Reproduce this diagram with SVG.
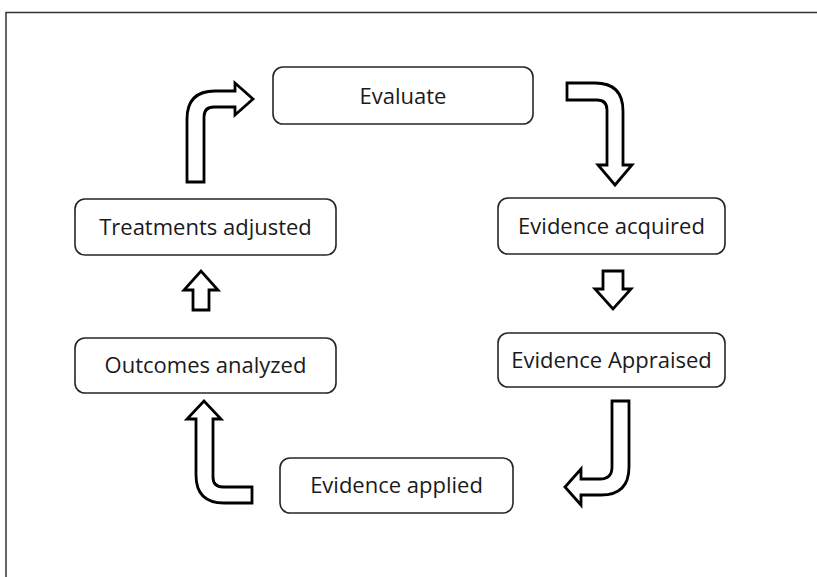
<svg xmlns="http://www.w3.org/2000/svg" width="817" height="577" viewBox="0 0 817 577">
<style>
.box{fill:#fff;stroke:#262626;stroke-width:1.6}
.lbl{font-family:"Open Sans","Noto Sans",sans-serif;font-size:22px;fill:#1a1a1a;text-anchor:middle}
.arr{fill:#fff;stroke:#000;stroke-width:2.8;stroke-linejoin:miter}
.frame{fill:none;stroke:#333;stroke-width:1.5}
</style>
<rect width="817" height="577" fill="#fff"/>
<path class="frame" d="M6,577 L6,12.5 L817,12.5"/>
<g id="node-evaluate"><rect class="box" x="273" y="67" width="260" height="57" rx="10"/><text class="lbl" x="403" y="103.5">Evaluate</text></g>
<g id="node-evidence-acquired"><rect class="box" x="498" y="198" width="227" height="56" rx="10"/><text class="lbl" x="611.5" y="234">Evidence acquired</text></g>
<g id="node-evidence-appraised"><rect class="box" x="498" y="333" width="227" height="54" rx="10"/><text class="lbl" x="611.5" y="368">Evidence Appraised</text></g>
<g id="node-evidence-applied"><rect class="box" x="280" y="458" width="233" height="55" rx="10"/><text class="lbl" x="396.5" y="493">Evidence applied</text></g>
<g id="node-outcomes-analyzed"><rect class="box" x="75" y="338" width="261" height="55" rx="10"/><text class="lbl" x="205.5" y="373">Outcomes analyzed</text></g>
<g id="node-treatments-adjusted"><rect class="box" x="75" y="199" width="261" height="56" rx="10"/><text class="lbl" x="205.5" y="235">Treatments adjusted</text></g>
<g id="connectors">
<path class="arr" d="M187,182 L187,119 Q187,91 215,91 L235,91 L235,83 L253,99 L235,115 L235,107 L214,107 Q204,107 204,117 L204,182 Z"/>
<path class="arr" d="M567,83 L595,83 Q623,83 623,111 L623,165 L632,165 L615,185 L598,165 L607,165 L607,110 Q607,100 597,100 L567,100 Z"/>
<path class="arr" d="M603,271 L623,271 L623,289 L631,289 L613,309 L595,289 L603,289 Z"/>
<path class="arr" d="M612,401 L629,401 L629,467 Q629,495 601,495 L581,495 L581,505 L565,487 L581,469 L581,479 L600,479 Q612,479 612,467 Z"/>
<path class="arr" d="M196,419 L187,419 L204,401 L221,419 L213,419 L213,477 Q213,487 223,487 L252,487 L252,503 L224,503 Q196,503 196,475 Z"/>
<path class="arr" d="M193,310 L209,310 L209,290 L218,290 L201,271 L184,290 L193,290 Z"/>
</g>
</svg>
